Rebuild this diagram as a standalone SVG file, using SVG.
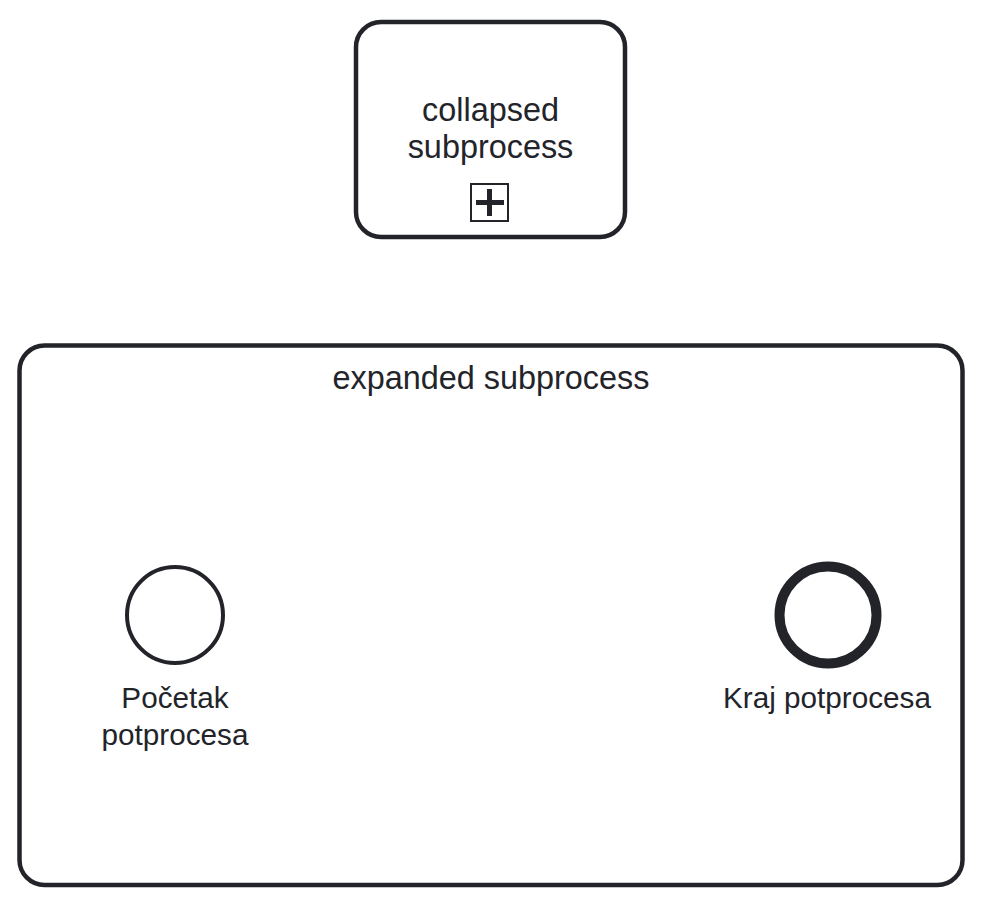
<svg xmlns="http://www.w3.org/2000/svg" width="986" height="902" viewBox="0 0 986 902">
<style>
.t{font-family:"Liberation Sans",Arial,sans-serif;font-size:29.7px;fill:#22242a;text-anchor:middle}
.i{font-size:32.4px}
.b{fill:#fff;stroke:#22242a}
</style>
<rect width="986" height="902" fill="#fff"/>
<g id="expanded">
<rect class="b" x="19.5" y="345.5" width="943" height="539.5" rx="25" stroke-width="4.5"/>
<text class="t i" x="491" y="389">expanded subprocess</text>
</g>
<g id="collapsed">
<rect class="b" x="356" y="22" width="269" height="215" rx="25" stroke-width="4.5"/>
<text class="t i" x="490.5" y="121">collapsed</text>
<text class="t i" x="490.5" y="158">subprocess</text>
<rect x="471" y="184" width="37" height="37" fill="none" stroke="#22242a" stroke-width="2"/>
<path d="M476 202.5H504M489.5 189V216" stroke="#22242a" stroke-width="5" fill="none"/>
</g>
<g id="start">
<circle class="b" cx="175" cy="615" r="48" stroke-width="4"/>
<text class="t" x="175" y="708">Početak</text>
<text class="t" x="175" y="745">potprocesa</text>
</g>
<g id="end">
<circle class="b" cx="828" cy="615" r="48.5" stroke-width="10"/>
<text class="t" x="827" y="708">Kraj potprocesa</text>
</g>
<g id="connectors"/>
</svg>
